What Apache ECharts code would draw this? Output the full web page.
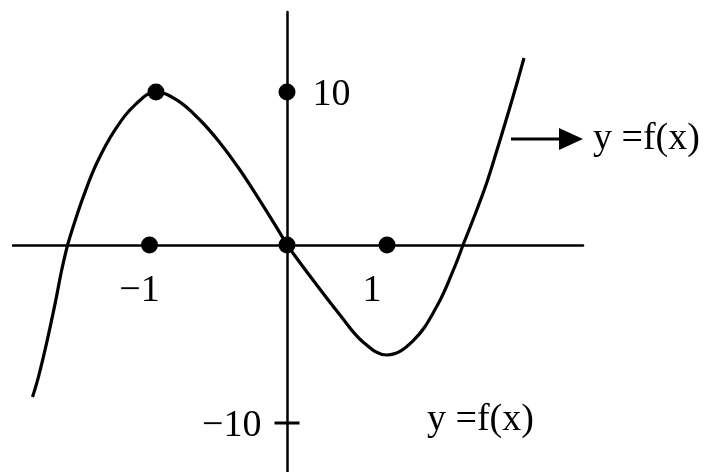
<!DOCTYPE html>
<html><head><meta charset="utf-8">
<script src="https://cdn.jsdelivr.net/npm/echarts@6/dist/echarts.min.js"></script>
<style>html,body{margin:0;padding:0;background:#fff}#c{width:710px;height:472px}</style>
</head><body><div id="c"></div>
<script>
// Curve y = f(x), split at the axes (the sketch is not to scale:
// each half-axis has its own unit, so each quadrant piece uses its own axis pair).
const curveLeftLower  = [[-1.851,-8.54],[-1.807,-7.39],[-1.749,-5.53],[-1.687,-3.31],[-1.640,-1.46],[-1.596,0]];
const curveLeftUpper  = [[-1.596,0],[-1.547,1.42],[-1.481,3.16],[-1.384,5.34],[-1.251,7.52],[-1.098,9.22],[-0.953,10],[-0.802,9.48],[-0.633,8.17],[-0.487,6.67],[-0.342,4.90],[-0.196,2.88],[-0.087,1.31],[0,0]];
const curveRightLower = [[0,0],[0.26,-1.97],[0.53,-3.93],[0.76,-5.45],[1.0,-6.18],[1.26,-5.39],[1.50,-3.43],[1.66,-1.46],[1.76,0]];
const curveRightUpper = [[1.76,0],[1.89,2.16],[2.00,4.12],[2.10,6.21],[2.20,8.37],[2.30,10.59],[2.37,12.22]];

// marked points
const maxPoint = [-0.953, 10];
const xTickValues = [-1, 1];
const xTickLabels = ['\u22121', '1'];
const yTickValues = [10, -10];
const yTickLabels = ['10', '\u221210'];
const curveName = 'y =f(x)';

// layout (pixels)
const L = {left:13, right:583, top:12, bottom:472, ox:287, oy:245,
           xUnitL:137.5, xUnitR:100, yUnitT:15.3, yUnitB:17.8};
const W = 710;

const FONT = '"Liberation Serif","DejaVu Serif",serif';
const FS = 38;
const INK = '#000';

function xRange(u){ return {min:(L.left-L.ox)/u, max:(L.right-L.ox)/u}; }
function yRange(u){ return {min:(L.oy-L.bottom)/u, max:(L.oy-L.top)/u}; }

const chart = echarts.init(document.getElementById('c'), null, {renderer:'canvas'});

const lineBase = {type:'line', showSymbol:false, smooth:0.4, silent:true,
  lineStyle:{color:INK, width:3.2}, z:3, animation:false};
const dotBase = {type:'scatter', symbol:'circle', symbolSize:17,
  itemStyle:{color:INK, opacity:1}, z:5, animation:false, silent:true};
const labelFont = {color:INK, fontFamily:FONT, fontSize:FS};

chart.setOption({
  animation:false,
  grid:{left:L.left, right:W-L.right, top:L.top, bottom:0, containLabel:false},
  xAxis:[
    Object.assign({type:'value', gridIndex:0,
      axisLine:{show:true, onZero:true, onZeroAxisIndex:0, lineStyle:{color:INK, width:2.5}},
      axisTick:{show:false}, axisLabel:{show:false}, splitLine:{show:false}}, xRange(L.xUnitL)),
    Object.assign({type:'value', gridIndex:0, show:false, splitLine:{show:false}}, xRange(L.xUnitR))
  ],
  yAxis:[
    Object.assign({type:'value', gridIndex:0,
      axisLine:{show:true, onZero:true, onZeroAxisIndex:0, lineStyle:{color:INK, width:2.5}},
      axisTick:{show:false}, axisLabel:{show:false}, splitLine:{show:false}}, yRange(L.yUnitT)),
    Object.assign({type:'value', gridIndex:0, show:false, splitLine:{show:false}}, yRange(L.yUnitB))
  ],
  series:[
    Object.assign({}, lineBase, {xAxisIndex:0, yAxisIndex:1, data:curveLeftLower}),
    Object.assign({}, lineBase, {xAxisIndex:0, yAxisIndex:0, data:curveLeftUpper}),
    Object.assign({}, lineBase, {xAxisIndex:1, yAxisIndex:1, data:curveRightLower}),
    Object.assign({}, lineBase, {xAxisIndex:1, yAxisIndex:0, data:curveRightUpper}),
    // max point + origin
    Object.assign({}, dotBase, {xAxisIndex:0, yAxisIndex:0, data:[maxPoint, [0,0]]}),
    // x tick -1
    Object.assign({}, dotBase, {xAxisIndex:0, yAxisIndex:0,
      data:[[xTickValues[0], 0]],
      label:Object.assign({show:true, position:'inside', offset:[-10,46],
        formatter:() => xTickLabels[0]}, labelFont)}),
    // x tick 1
    Object.assign({}, dotBase, {xAxisIndex:1, yAxisIndex:0,
      data:[[xTickValues[1], 0]],
      label:Object.assign({show:true, position:'inside', offset:[-15,46],
        formatter:() => xTickLabels[1]}, labelFont)}),
    // y tick 10
    Object.assign({}, dotBase, {xAxisIndex:0, yAxisIndex:0,
      data:[[0, yTickValues[0]]],
      label:Object.assign({show:true, position:'right', distance:17, offset:[0,3],
        formatter:() => yTickLabels[0]}, labelFont)}),
    // y tick -10 (cross tick)
    Object.assign({}, dotBase, {xAxisIndex:0, yAxisIndex:1, symbol:'rect', symbolSize:[25,3],
      data:[[0, yTickValues[1]]],
      label:Object.assign({show:true, position:'left', distance:13, offset:[0,3],
        formatter:() => yTickLabels[1]}, labelFont)})
  ],
  graphic:[
    {type:'line', shape:{x1:511, y1:139, x2:564, y2:139}, style:{stroke:INK, lineWidth:3}, z:10},
    {type:'polygon', shape:{points:[[559,128],[583,139],[559,150]]}, style:{fill:INK}, z:10},
    {type:'text', x:593, y:139, z:10, style:{text:curveName, fill:INK, font:FS + 'px ' + FONT,
      textAlign:'left', textVerticalAlign:'middle'}},
    {type:'text', x:427, y:420, z:10, style:{text:curveName, fill:INK, font:FS + 'px ' + FONT,
      textAlign:'left', textVerticalAlign:'middle'}}
  ]
});
</script>
</body></html>
